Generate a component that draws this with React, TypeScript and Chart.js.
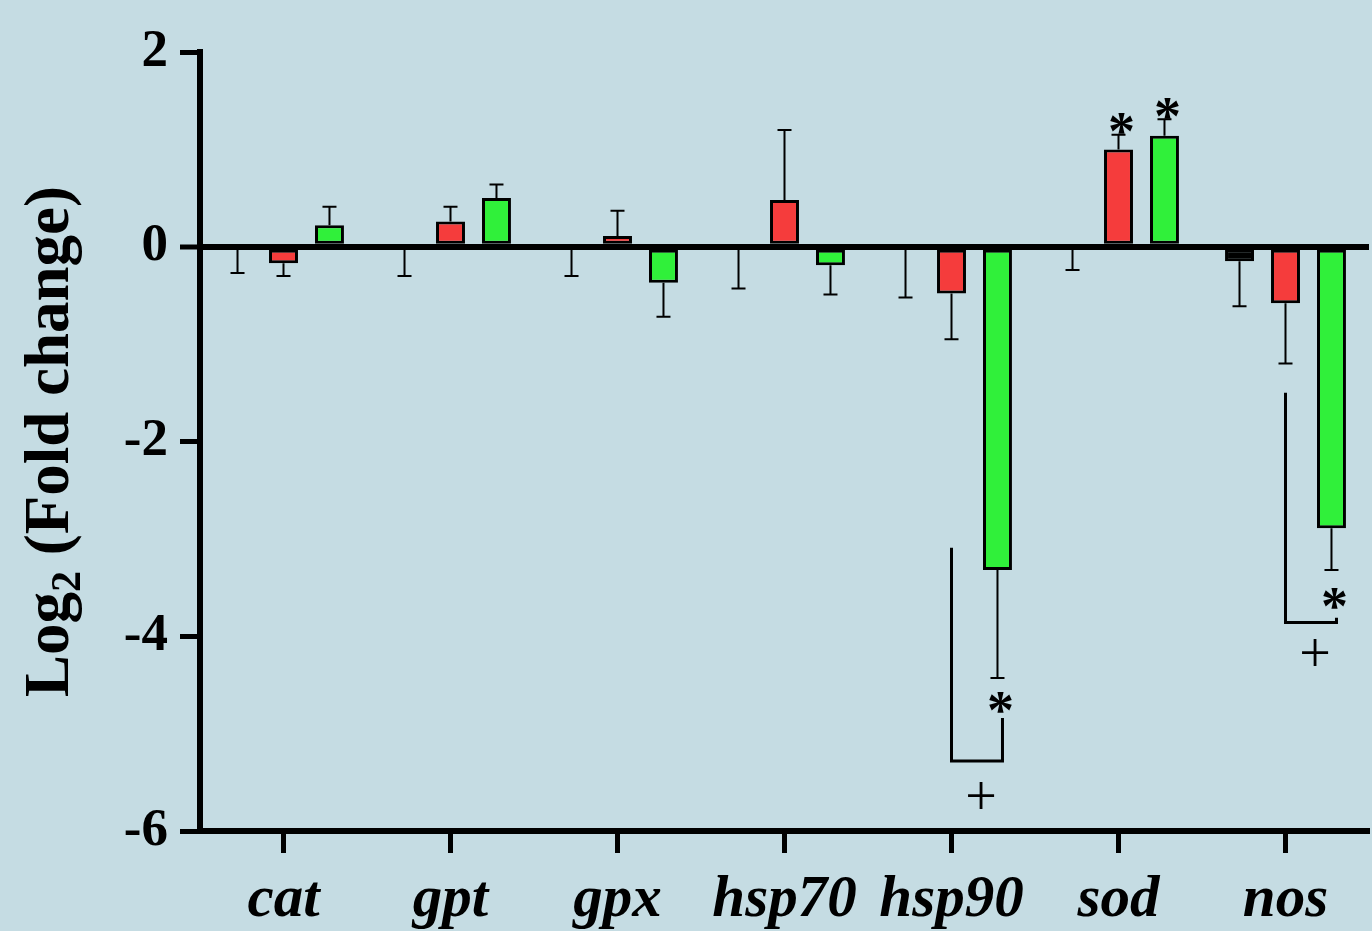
import React, { useEffect, useRef } from "react";
import { Chart, registerables } from "chart.js";

Chart.register(...registerables);

// ---------- data ----------
const categories = ["cat", "gpt", "gpx", "hsp70", "hsp90", "sod", "nos"];
const seriesNames = ["Control", "Treatment A", "Treatment B"];
const controlValues = [0, 0, 0, 0, 0, 0, -0.15];
const controlErrors = [0.27, 0.3, 0.3, 0.43, 0.52, 0.24, 0.46];
const redValues = [-0.17, 0.26, 0.11, 0.48, -0.48, 1.0, -0.58];
const redErrors = [0.13, 0.15, 0.26, 0.72, 0.47, 0.15, 0.62];
const greenValues = [0.22, 0.5, -0.37, -0.19, -3.32, 1.14, -2.89];
const greenErrors = [0.19, 0.14, 0.35, 0.3, 1.11, 0.17, 0.43];
const yTicks = [2, 0, -2, -4, -6];

// significance marks (*): category index, series index, y value
const starCats = [5, 5, 4, 6];
const starSeries = [1, 2, 2, 2];
const starValues = [1.28, 1.44, -4.67, -3.6];

// brackets between red and green bars, with "+" below
const bracketCats = [4, 6];
const bracketLeftTop = [-3.09, -1.5];
const bracketBottom = [-5.28, -3.86];
const bracketRightTop = [-4.84, -3.81];
const plusValues = [-5.64, -4.17];

const seriesValues = [controlValues, redValues, greenValues];
const seriesErrors = [controlErrors, redErrors, greenErrors];
const seriesColors = ["#000000", "#f53c3c", "#30f03a"];

const SERIF = "'Liberation Serif', 'Times New Roman', serif";

const errorBarsPlugin = {
  id: "errorBars",
  afterDatasetsDraw(chart: any) {
    const ctx = chart.ctx;
    const y = chart.scales.y;
    ctx.save();
    ctx.strokeStyle = "#000";
    ctx.lineWidth = 2;
    seriesValues.forEach((vals, i) => {
      const meta = chart.getDatasetMeta(i);
      vals.forEach((v, j) => {
        const bar = meta.data[j];
        const e = seriesErrors[i][j];
        const end = v > 0 ? v + e : v - e;
        const y0 = y.getPixelForValue(v);
        const y1 = y.getPixelForValue(end);
        ctx.beginPath();
        ctx.moveTo(bar.x, y0);
        ctx.lineTo(bar.x, y1);
        ctx.moveTo(bar.x - 7, y1);
        ctx.lineTo(bar.x + 7, y1);
        ctx.stroke();
      });
    });
    ctx.restore();
  },
};

const annotationsPlugin = {
  id: "annotations",
  afterDraw(chart: any) {
    const ctx = chart.ctx;
    const y = chart.scales.y;
    ctx.save();
    ctx.fillStyle = "#000";
    ctx.strokeStyle = "#000";
    // asterisks
    const starSize = 54;
    ctx.font = `bold ${starSize}px ${SERIF}`;
    ctx.textAlign = "center";
    ctx.textBaseline = "alphabetic";
    starCats.forEach((c, k) => {
      const bar = chart.getDatasetMeta(starSeries[k]).data[c];
      const cy = y.getPixelForValue(starValues[k]);
      ctx.fillText("*", bar.x + 3, cy + 0.5 * starSize);
    });
    // brackets and plus signs
    const plusSize = 56;
    bracketCats.forEach((c, k) => {
      const left = chart.getDatasetMeta(1).data[c].x;
      const right = chart.getDatasetMeta(2).data[c].x + 5;
      ctx.lineWidth = 3;
      ctx.beginPath();
      ctx.moveTo(left, y.getPixelForValue(bracketLeftTop[k]));
      ctx.lineTo(left, y.getPixelForValue(bracketBottom[k]));
      ctx.lineTo(right, y.getPixelForValue(bracketBottom[k]));
      ctx.lineTo(right, y.getPixelForValue(bracketRightTop[k]));
      ctx.stroke();
      ctx.font = `${plusSize}px ${SERIF}`;
      const py = y.getPixelForValue(plusValues[k]);
      ctx.fillText("+", (left + right) / 2 + 4, py + 0.34 * plusSize);
    });
    // y-axis title with subscript
    const area = chart.chartArea;
    const big = 63;
    const small = 42;
    ctx.translate(68, (area.top + area.bottom) / 2);
    ctx.rotate(-Math.PI / 2);
    ctx.textAlign = "left";
    ctx.font = `bold ${big}px ${SERIF}`;
    const w1 = ctx.measureText("Log").width;
    const w3 = ctx.measureText(" (Fold change)").width;
    ctx.font = `bold ${small}px ${SERIF}`;
    const w2 = ctx.measureText("2").width;
    let x = -(w1 + w2 + w3) / 2;
    ctx.font = `bold ${big}px ${SERIF}`;
    ctx.fillText("Log", x, 0);
    x += w1;
    ctx.font = `bold ${small}px ${SERIF}`;
    ctx.fillText("2", x, 12);
    x += w2;
    ctx.font = `bold ${big}px ${SERIF}`;
    ctx.fillText(" (Fold change)", x, 0);
    ctx.restore();
  },
};

export default function App() {
  const canvasRef = useRef<HTMLCanvasElement | null>(null);

  useEffect(() => {
    document.body.style.margin = "0";
    const canvas = canvasRef.current;
    if (!canvas) return;
    const chart = new Chart(canvas, {
      type: "bar",
      data: {
        labels: categories,
        datasets: seriesValues.map((vals, i) => ({
          label: seriesNames[i],
          data: vals,
          backgroundColor: seriesColors[i],
          borderColor: "#000",
          borderWidth: 3,
          borderSkipped: false,
          categoryPercentage: 0.826,
          barPercentage: 0.63,
        })),
      },
      options: {
        animation: false,
        responsive: false,
        devicePixelRatio: 1,
        layout: { padding: { top: 52, right: 3, left: 0, bottom: 0 } },
        plugins: {
          legend: { display: false },
          tooltip: { enabled: false },
          title: { display: false },
        },
        scales: {
          x: {
            afterFit: (s: any) => {
              s.height = 100;
            },
            border: { display: true, color: "#000", width: 6 },
            grid: {
              display: true,
              drawOnChartArea: false,
              offset: false,
              tickLength: 22,
              tickWidth: 5,
              tickColor: "#000",
            },
            ticks: {
              color: "#000",
              padding: 12,
              maxRotation: 0,
              autoSkip: false,
              font: { family: SERIF, size: 59, style: "italic", weight: "bold" },
            },
          },
          y: {
            min: -6,
            max: 2,
            afterFit: (s: any) => {
              s.width = 200;
            },
            afterBuildTicks: (s: any) => {
              s.ticks = yTicks.map((v) => ({ value: v }));
            },
            border: { display: true, color: "#000", width: 6 },
            grid: {
              display: true,
              drawOnChartArea: true,
              color: (c: any) => (c.tick && c.tick.value === 0 ? "#000" : "rgba(0,0,0,0)"),
              lineWidth: (c: any) => (c.tick && c.tick.value === 0 ? 6 : 1),
              tickLength: 20,
              tickWidth: 5,
              tickColor: "#000",
            },
            ticks: {
              color: "#000",
              padding: 12,
              font: { family: SERIF, size: 53, weight: "bold" },
            },
          },
        },
      },
      plugins: [errorBarsPlugin, annotationsPlugin],
    });
    return () => chart.destroy();
  }, []);

  return (
    <div style={{ width: 1372, height: 931, background: "#c5dce3", overflow: "hidden" }}>
      <canvas ref={canvasRef} width={1372} height={931} style={{ display: "block" }} />
    </div>
  );
}
